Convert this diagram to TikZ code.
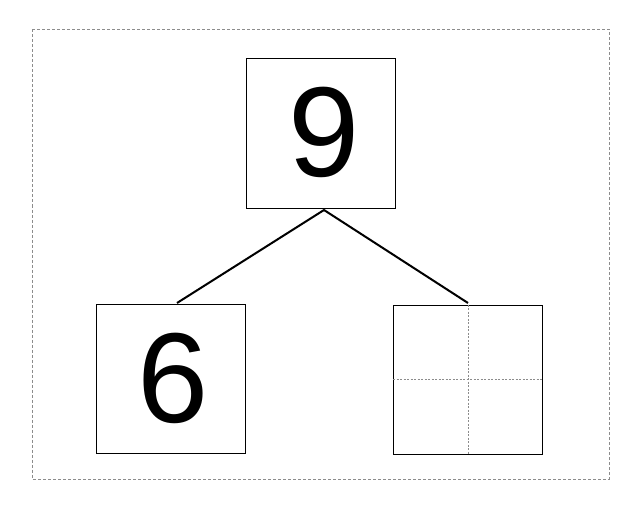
\documentclass[tikz,border=0pt]{standalone}
\usepackage{fontspec}
\setmainfont{Liberation Sans}
\begin{document}
\begin{tikzpicture}[x=1pt,y=-1pt,
  numbox/.style={draw=black,line width=1pt,minimum width=149pt,minimum height=149pt,inner sep=0pt,font=\fontsize{128}{128}\selectfont},
  link/.style={draw=black,line width=2pt},
  frame/.style={draw=gray!90,line width=0.8pt,dash pattern=on 3pt off 2pt},
  grid/.style={draw=gray!90,line width=0.8pt,dash pattern=on 2pt off 1.5pt}]
\useasboundingbox (0,0) rectangle (642,513);
\draw[frame] (32.5,29.5) rectangle (609,479);
\node[numbox] (top) at (320.5,133.5) {};
\node[numbox] (left) at (171,378.5) {};
\node[numbox] (right) at (468,379.5) {};
\node (ninetxt) at (324,132) {\fontsize{128}{128}\selectfont 9};
\node (sixtxt) at (173.5,378) {\fontsize{128}{128}\selectfont 6};
\coordinate (apex) at (324,210);
\coordinate (lend) at (177,303);
\coordinate (rend) at (468,303);
\draw[link] (lend) -- (apex) -- (rend);
\draw[grid] (right.north) -- (right.south);
\draw[grid] (right.west) -- (right.east);
\end{tikzpicture}
\end{document}
